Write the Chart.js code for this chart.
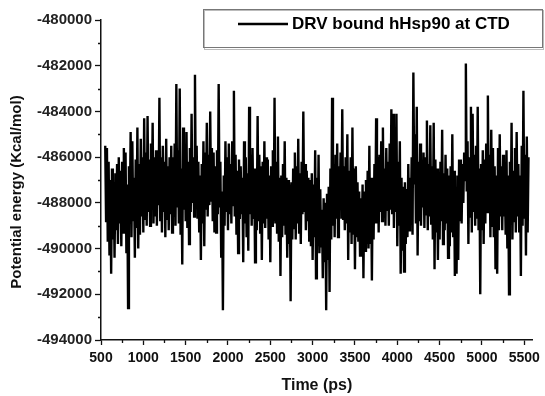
<!DOCTYPE html>
<html>
<head>
<meta charset="utf-8">
<script src="https://cdn.jsdelivr.net/npm/chart.js@4.4.1/dist/chart.umd.min.js"></script>
<style>
  html, body { margin: 0; padding: 0; background: #fff; }
  #wrap { width: 545px; height: 396px; }
</style>
</head>
<body>
<div id="wrap"><canvas id="c" width="545" height="396"></canvas></div>
<script>
// Potential energy trace of the DRV-bound hHsp90 complex (CTD site)
const seriesLabel = 'DRV bound hHsp90 at CTD';
const xTitle = 'Time (ps)';
const yTitle = 'Potential energy (Kcal/mol)';

// sampling of the trajectory
const startTime = 550;   // ps
const timeStep = 10;     // ps

// potential energy (kcal/mol), one value per frame; each row covers 200 ps
const energy = [
  -485500,-488800,-485600,-489700,-486200,-490300,-487000,-491100,-486500,-489600,-487100,-490400,-486700,-489200,-486300,-489800,-486000,-488900,-486600,-489900,
  -486200,-489300,-485600,-488500,-485800,-490200,-487200,-492600,-486400,-488700,-484900,-489500,-485300,-488800,-486900,-490400,-486100,-489100,-484700,-490000,
  -486300,-489400,-485200,-488600,-486000,-489300,-484300,-488700,-485800,-489000,-484200,-488400,-486100,-489000,-485400,-488200,-484500,-488900,-486000,-488600,
  -485700,-489000,-486300,-488100,-483400,-488800,-486000,-489300,-485500,-488400,-486200,-489500,-485200,-488700,-486400,-489200,-486000,-488500,-485500,-489300,
  -486000,-488600,-485400,-489000,-482800,-488200,-485700,-488900,-483000,-489400,-486500,-490700,-484700,-488300,-485600,-488800,-484900,-489100,-486200,-489800,
  -485600,-488400,-484100,-488000,-486000,-488600,-482400,-487800,-485500,-488700,-486200,-489300,-486800,-490500,-486300,-488900,-485300,-489900,-485800,-488300,
  -484500,-488600,-485900,-488100,-484000,-487900,-485600,-488800,-485800,-489300,-486400,-489300,-485700,-488500,-482800,-488200,-486200,-490400,-487500,-492700,
  -486800,-489000,-485300,-488400,-486000,-489200,-485400,-488500,-486300,-488900,-485300,-488100,-483100,-488600,-485900,-489400,-486600,-490200,-486100,-488700,
  -486400,-488500,-486900,-490600,-485300,-488900,-486000,-489500,-486700,-490100,-483800,-488500,-485900,-489000,-485600,-488700,-486500,-490600,-486500,-489200,
  -484200,-488800,-485900,-489300,-486400,-490500,-486200,-488900,-485300,-489100,-486000,-488700,-486100,-489600,-486800,-490600,-486400,-489000,-485700,-488800,
  -483400,-488900,-486200,-489300,-485100,-489700,-486900,-491200,-486800,-489500,-486300,-489000,-485300,-489400,-486900,-490400,-487000,-489800,-487200,-492300,
  -487100,-489600,-486500,-489100,-485800,-489600,-486400,-488900,-485200,-489300,-486700,-489800,-486200,-488500,-484000,-488400,-486300,-489200,-486600,-488800,
  -486900,-489700,-487000,-489900,-486700,-490500,-487200,-489500,-485700,-491300,-486900,-489900,-485900,-490200,-487400,-489900,-488300,-491300,-487800,-490600,
  -488000,-492700,-487600,-490500,-487300,-491900,-486500,-489600,-483400,-489000,-486300,-489500,-485900,-488700,-485400,-489500,-486400,-488000,-485800,-488700,
  -483900,-488700,-486400,-489200,-486000,-488900,-485000,-490500,-486600,-489300,-486000,-489800,-484700,-489400,-486500,-490900,-486400,-489500,-487100,-489700,
  -487500,-490300,-487800,-489900,-487200,-491300,-487500,-490100,-487000,-489800,-486600,-490000,-485500,-489800,-486900,-491400,-487000,-489600,-486300,-488900,
  -484300,-488900,-486000,-489300,-485900,-488400,-485300,-488800,-484700,-488600,-486500,-489000,-485600,-488300,-486200,-489000,-485400,-488300,-483900,-488500,
  -484100,-489100,-485900,-488400,-484100,-489900,-486200,-489000,-485300,-491100,-486900,-490100,-487300,-491000,-487100,-489800,-487400,-489500,-486300,-489200,
  -486900,-488800,-486000,-489400,-482300,-487200,-485000,-488900,-483800,-490300,-486200,-488800,-485400,-489000,-486400,-488200,-485800,-489100,-486000,-488500,
  -484400,-489200,-486300,-488600,-484600,-488900,-486400,-489600,-484500,-490900,-486100,-489300,-486500,-490500,-487000,-489600,-486200,-488800,-484800,-489800,
  -486700,-489200,-485900,-488900,-486500,-490400,-486800,-489900,-486400,-489300,-485000,-489500,-486600,-491200,-487300,-491100,-486800,-490500,-486100,-488800,
  -486100,-488900,-486300,-488000,-485800,-487000,-481900,-487500,-485300,-489800,-486000,-488600,-483800,-489300,-484100,-488400,-485900,-489000,-485500,-488700,
  -483800,-489200,-486500,-492000,-486300,-489200,-485700,-489800,-486100,-488900,-485400,-488400,-483300,-488400,-485900,-489500,-484800,-489000,-485600,-489500,
  -486400,-490900,-486800,-491100,-485600,-489200,-485000,-488600,-486400,-489200,-485900,-488600,-486700,-489400,-485700,-490000,-486800,-492000,-486200,-488900,
  -484500,-489600,-486600,-488800,-485600,-489300,-484900,-488600,-486300,-489300,-486800,-491200,-485500,-489000,-483100,-488700,-485900,-490300,-485100,-489300,
  -486000
];

// axis tick values
const xTickValues = [500, 1000, 1500, 2000, 2500, 3000, 3500, 4000, 4500, 5000, 5500];
const yTickValues = [-494000, -492000, -490000, -488000, -486000, -484000, -482000, -480000];

const points = energy.map((e, i) => ({ x: startTime + i * timeStep, y: e }));

const FONT = '"Liberation Sans", Arial, sans-serif';

// short ticks halfway between the labelled ones
const minorTicks = {
  id: 'minorTicks',
  afterDraw(chart) {
    const ctx = chart.ctx;
    const xs = chart.scales.x, ys = chart.scales.y;
    ctx.save();
    ctx.strokeStyle = '#111';
    ctx.lineWidth = 1.3;
    ctx.beginPath();
    for (let i = 0; i < xTickValues.length; i++) {
      const a = xTickValues[i];
      const b = i + 1 < xTickValues.length ? xTickValues[i + 1] : a + (xTickValues[1] - xTickValues[0]);
      const m = (a + b) / 2;
      if (m > xs.max) continue;
      const px = Math.round(xs.getPixelForValue(m)) + 0.5;
      ctx.moveTo(px, xs.top);
      ctx.lineTo(px, xs.top + 3);
    }
    for (let i = 0; i + 1 < yTickValues.length; i++) {
      const m = (yTickValues[i] + yTickValues[i + 1]) / 2;
      const py = Math.round(ys.getPixelForValue(m)) + 0.5;
      ctx.moveTo(ys.right - 3, py);
      ctx.lineTo(ys.right, py);
    }
    ctx.stroke();
    ctx.restore();
  }
};

// rotated y-axis title
const yAxisTitle = {
  id: 'yAxisTitle',
  afterDraw(chart) {
    const ctx = chart.ctx;
    ctx.save();
    ctx.translate(17, 192);
    ctx.rotate(-Math.PI / 2);
    ctx.font = 'bold 15px ' + FONT;
    ctx.fillStyle = '#111';
    ctx.textAlign = 'center';
    ctx.textBaseline = 'middle';
    ctx.fillText(yTitle, 0, 0);
    ctx.restore();
  }
};

// boxed legend in the top-right corner
const boxLegend = {
  id: 'boxLegend',
  afterDraw(chart) {
    const ctx = chart.ctx;
    const ds = chart.data.datasets[0];
    ctx.save();
    ctx.fillStyle = '#fff';
    ctx.fillRect(203, 9, 340, 39);
    ctx.strokeStyle = '#bbb';
    ctx.lineWidth = 1;
    ctx.strokeRect(204.5, 10.5, 339, 39);
    ctx.strokeStyle = '#777';
    ctx.strokeRect(203.5, 9.5, 339, 38);
    ctx.strokeStyle = ds.borderColor;
    ctx.lineWidth = 2.5;
    ctx.beginPath();
    ctx.moveTo(238, 24);
    ctx.lineTo(288, 24);
    ctx.stroke();
    ctx.font = 'bold 17px ' + FONT;
    ctx.fillStyle = '#000';
    ctx.textAlign = 'left';
    ctx.textBaseline = 'middle';
    ctx.fillText(ds.label, 292, 24.5);
    ctx.restore();
  }
};

new Chart(document.getElementById('c'), {
  type: 'line',
  data: {
    datasets: [{
      label: seriesLabel,
      data: points,
      borderColor: '#000',
      borderWidth: 2.4,
      borderJoinStyle: 'miter',
      pointRadius: 0,
      tension: 0,
      fill: false
    }]
  },
  options: {
    responsive: false,
    animation: false,
    devicePixelRatio: 1,
    layout: { padding: { top: 20, right: 8, left: 0, bottom: 0 } },
    plugins: { legend: { display: false }, tooltip: { enabled: false } },
    scales: {
      x: {
        type: 'linear',
        min: 500,
        max: 5600,
        afterFit(s) { s.height = 56; },
        afterBuildTicks(s) { s.ticks = xTickValues.map(v => ({ value: v })); },
        grid: { display: true, drawOnChartArea: false, drawTicks: true, tickLength: 5, tickColor: '#111', tickWidth: 1.3 },
        border: { display: true, color: '#111', width: 1.5 },
        ticks: {
          padding: 5,
          maxRotation: 0,
          autoSkip: false,
          color: '#111',
          font: { family: FONT, size: 14, weight: 'bold' },
          callback: v => String(v)
        },
        title: {
          display: true,
          text: xTitle,
          color: '#111',
          font: { family: FONT, size: 16, weight: 'bold' },
          padding: { top: 0, bottom: 1 }
        }
      },
      y: {
        type: 'linear',
        min: -494000,
        max: -480000,
        afterFit(s) { s.width = 101; },
        afterBuildTicks(s) { s.ticks = yTickValues.map(v => ({ value: v })); },
        grid: { display: true, drawOnChartArea: false, drawTicks: true, tickLength: 6, tickColor: '#111', tickWidth: 1.3 },
        border: { display: true, color: '#111', width: 1.5 },
        ticks: {
          padding: 3,
          autoSkip: false,
          color: '#222',
          font: { family: FONT, size: 15, weight: 'bold' },
          callback: v => String(v)
        }
      }
    }
  },
  plugins: [minorTicks, yAxisTitle, boxLegend]
});
</script>
</body>
</html>
